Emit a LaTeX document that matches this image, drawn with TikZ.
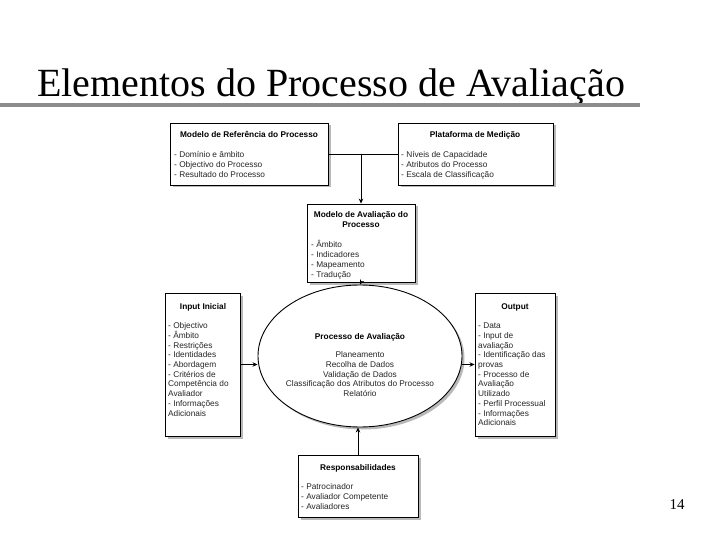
\documentclass[tikz,border=0pt]{standalone}
\usepackage{fontspec}
\setmainfont{Liberation Serif}
\newfontfamily\boxfont{Liberation Sans}
\usetikzlibrary{shapes.geometric,shadows,arrows.meta}
\tikzset{
  box/.style={draw=black, line width=0.9pt, fill=white, inner sep=0pt,
    drop shadow={shadow xshift=2.5pt, shadow yshift=-2.5pt, fill=black!50, opacity=0.55}},
  boxtitle/.style={inner sep=0pt, anchor=base, font=\boxfont\bfseries\fontsize{8.3}{9.7}\selectfont, align=center},
  boxlist/.style={inner sep=0pt, anchor=north west, align=left, text=black!85,
    font=\boxfont\fontsize{8.3}{9.7}\selectfont},
  arr/.style={line width=0.8pt, -{Stealth[length=5pt,width=4.5pt]}},
  conn/.style={line width=0.8pt}
}
\newcommand{\fl}{\rule{0pt}{7pt}}
\begin{document}
\begin{tikzpicture}[x=1pt,y=-1pt]
\path[use as bounding box, fill=white] (0,0) rectangle (720,540);
% title
\node[anchor=base west, inner sep=0pt, font=\fontsize{40}{44}\selectfont] (title) at (37,97) {Elementos do Processo de Avaliação};
\coordinate (rl) at (0,105.5);
\coordinate (rr) at (640,105.5);
\draw[line width=4pt, color={rgb,255:red,140;green,140;blue,140}] (rl) -- (rr);
\node[font=\fontsize{15}{17}\selectfont, inner sep=0pt] (pg) at (677,505) {14};

% boxes
\node[box, minimum width=158, minimum height=62] (ref) at (249,154) {};
\node[box, minimum width=155, minimum height=62] (plat) at (475.5,154) {};
\node[box, minimum width=108, minimum height=78] (mid) at (361,243) {};
\node[box, minimum width=75, minimum height=143] (inp) at (202.5,364.5) {};
\node[box, minimum width=80, minimum height=143] (out) at (515,364.5) {};
\node[box, minimum width=120, minimum height=62] (resp) at (358,486) {};
\node[box, ellipse, minimum width=204, minimum height=142] (ell) at (360,356) {};

% texts
\node[boxtitle] (refT) at (249,138) {Modelo de Referência do Processo};
\node[boxlist] (refL) at (174,150.5) {\fl- Domínio e âmbito\\- Objectivo do Processo\\- Resultado do Processo};

\node[boxtitle] (platT) at (475,138) {Plataforma de Medição};
\node[boxlist] (platL) at (401,150.5) {\fl- Níveis de Capacidade\\- Atributos do Processo\\- Escala de Classificação};

\node[boxtitle, anchor=north] (midT) at (361,210.5) {\fl Modelo de Avaliação do\\Processo};
\node[boxlist] (midL) at (311,240.5) {\fl- Âmbito\\- Indicadores\\- Mapeamento\\- Tradução};

\node[boxtitle] (inpT) at (203,309) {Input Inicial};
\node[boxlist] (inpL) at (168,321.5) {\fl- Objectivo\\- Âmbito\\- Restrições\\- Identidades\\- Abordagem\\- Critérios de\\Competência do\\Avaliador\\- Informações\\Adicionais};

\node[boxtitle] (outT) at (515,309) {Output};
\node[boxlist] (outL) at (478,321.5) {\fl- Data\\- Input de\\avaliação\\- Identificação das\\provas\\- Processo de\\Avaliação\\Utilizado\\- Perfil Processual\\- Informações\\Adicionais};

\node[boxtitle] (ellT) at (360,339) {Processo de Avaliação};
\node[boxlist, anchor=north, align=center] (ellL) at (360,350.5) {\fl Planeamento\\Recolha de Dados\\Validação de Dados\\Classificação dos Atributos do Processo\\Relatório};

\node[boxtitle] (respT) at (358,470) {Responsabilidades};
\node[boxlist] (respL) at (301,482.5) {\fl- Patrocinador\\- Avaliador Competente\\- Avaliadores};

% connectors
\draw[conn] (ref.east) -- (plat.west);
\draw[arr] (mid.north |- ref.east) -- (mid.north);
\draw[arr] (mid.south) -- (ell.north);
\draw[arr] (inp.east) -- (inp.east -| ell.west);
\draw[arr] (out.west -| ell.east) -- (out.west);
\draw[arr] (resp.north) -- (resp.north |- ell.south);
\end{tikzpicture}
\end{document}
